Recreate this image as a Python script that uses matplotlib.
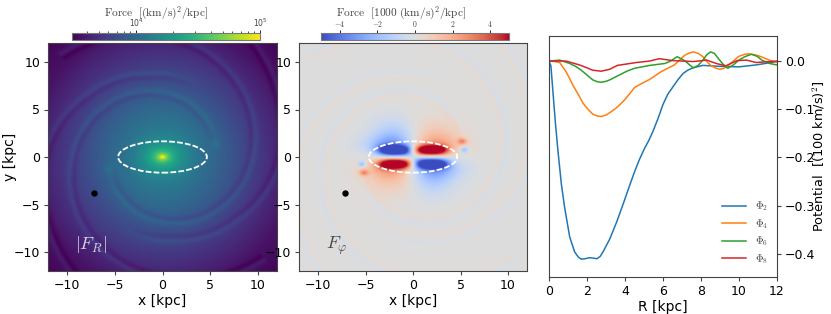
import numpy as np
import matplotlib
matplotlib.use('Agg')
import matplotlib.pyplot as plt
from matplotlib.colors import LogNorm, Normalize
from matplotlib.patches import Ellipse

plt.rcParams['mathtext.fontset'] = 'cm'

# Curves
R2 = [0, .1, .2, .33, .47, .65, .82, 1.09, 1.35, 1.55, 1.7, 1.9, 2.14, 2.35, 2.53, 2.7, 2.84, 3.2, 3.55, 3.9, 4.2, 4.5, 4.75, 5.03, 5.25, 5.47, 5.75, 6.0, 6.25, 6.53, 6.8, 7.05, 7.3, 7.58, 8.1, 9, 10, 10.9, 12]
PHI2 = [0, -.01, -.06, -.125, -.186, -.255, -.303, -.365, -.396, -.407, -.411, -.41, -.408, -.409, -.41, -.405, -.396, -.369, -.335, -.297, -.263, -.23, -.205, -.181, -.165, -.146, -.118, -.09, -.069, -.053, -.038, -.026, -.019, -.014, -.009, -.011, -.012, -.008, -.001]
R4 = [0, .3, .56, .9, 1.26, 1.55, 1.8, 2.05, 2.3, 2.55, 2.75, 3.0, 3.2, 3.55, 3.9, 4.2, 4.5, 4.9, 5.3, 5.9, 6.3, 6.6, 6.9, 7.14, 7.4, 7.6, 7.85, 8.1, 8.35, 8.54, 8.8, 9, 9.2, 9.4, 9.7, 10, 10.3, 10.55, 10.85, 11.1, 11.6, 12]
PHI4 = [0, -.001, -.003, -.022, -.05, -.07, -.088, -.1, -.11, -.114, -.115, -.112, -.107, -.097, -.084, -.07, -.055, -.046, -.038, -.022, -.014, -.008, .003, .012, .017, .019, .016, .009, -.003, -.01, -.015, -.017, -.015, -.01, 0, .01, .014, .015, .013, .01, .002, -.003]
R6 = [0, .56, 1.09, 1.4, 1.7, 2.0, 2.3, 2.55, 2.75, 3.0, 3.2, 3.7, 4.1, 4.5, 5.3, 6.1, 6.4, 6.74, 7.0, 7.2, 7.4, 7.6, 7.85, 8.1, 8.3, 8.5, 8.7, 8.9, 9.15, 9.4, 9.7, 10, 10.3, 10.65, 10.95, 11.2, 11.6, 12]
PHI6 = [0, .002, -.005, -.011, -.019, -.029, -.039, -.043, -.044, -.042, -.039, -.029, -.021, -.015, -.009, -.005, 0, .009, .004, -.001, -.008, -.014, -.009, .002, .013, .019, .016, .006, -.006, -.015, -.008, .002, .009, .014, .01, .002, -.005, -.008]
R8 = [0, .9, 1.6, 2.0, 2.3, 2.75, 3.2, 3.6, 4.6, 5.3, 5.8, 6.5, 7.6, 8.3, 8.8, 9.3, 9.9, 10.4, 10.9, 12]
PHI8 = [0, 0, -.008, -.014, -.019, -.021, -.017, -.009, -.003, 0, .005, .001, -.001, .002, -.005, -.01, .001, .002, -.003, 0]
CURVE_LABELS = [r'$\Phi_2$', r'$\Phi_4$', r'$\Phi_6$', r'$\Phi_8$']

# Left image: log10 force against radius
PROFILE_R = [0, .15, .4, .8, 1.3, 2, 3, 4, 6, 8, 10, 12, 14, 17]
PROFILE_LOG = [5.0, 4.95, 4.72, 4.52, 4.38, 4.25, 4.13, 4.05, 3.95, 3.84, 3.74, 3.65, 3.56, 3.5]

# Spiral ridges: polar angle (deg) against radius (kpc)
ARM_A_ANGLE = [10, 45, 90, 135, 180, 225, 270, 315]
ARM_A_R = [5.6, 5.9, 6.6, 7.8, 9.3, 11.0, 12.7, 15.0]
ARM_B_ANGLE = [60, 100, 140, 173, 210, 250]
ARM_B_R = [8.3, 8.7, 10.1, 11.9, 13.8, 16.5]
ARM_LOG_AMP = [.095, .09]
ARM_PHI_AMP = [.36, .32]

# Azimuthal force lobes: x, y, sigma-x, sigma-y, amplitude, sharpness
LOBE_X = [1.6, 1.6, 2.0, 2.4, -2.1, -2.0, 5.2, 5.4]
LOBE_Y = [.72, -.7, 1.3, 2.5, 2.4, 1.3, 1.65, .77]
LOBE_SX = [1.6, 1.65, 2.1, 1.9, 1.6, 2.1, .36, .3]
LOBE_SY = [.38, .4, .75, 1.2, 1.2, .75, .24, .24]
LOBE_AMP = [7.0, -6.6, 1.9, 1.0, -1.4, -2.2, 2.2, -2.2]
LOBE_POWER = [3, 3, 2, 2, 2, 2, 2, 2]

# Bright knots at the bar tips in the left image: x, y, sigma, log10 excess
KNOT_X, KNOT_Y, KNOT_SIGMA, KNOT_LOG = 5.6, 1.3, .4, .07

ELLIPSE_WIDTH, ELLIPSE_HEIGHT = 9.3, 3.3
DOT_X, DOT_Y = -7.2, -3.8

FORCE_MIN, FORCE_MAX = 3050, 1e5
PHI_LIMIT = 5
GRID = np.linspace(-12, 12, 400)
X, Y = np.meshgrid(GRID, GRID)


def arm_fields():
    r = np.hypot(X, Y)
    theta = np.degrees(np.arctan2(Y, X))
    log_part = np.zeros_like(X)
    phi_part = np.zeros_like(X)
    arms = [(ARM_A_ANGLE, ARM_A_R, ARM_LOG_AMP[0], ARM_PHI_AMP[0]),
            (ARM_B_ANGLE, ARM_B_R, ARM_LOG_AMP[1], ARM_PHI_AMP[1])]
    for angles, radii, log_amp, phi_amp in arms:
        for rot in (0, 180):
            for turn in (0, 360):
                th = (theta - rot) % 360 + turn
                fade = np.clip((th - angles[0]) / 30, 0, 1) * (th <= angles[-1])
                ridge = np.interp(th, angles, radii)
                d = (r - ridge) / .27
                shape = d * np.exp(-.5 * d ** 2) * fade
                log_part += log_amp * shape
                phi_part -= phi_amp * shape
    return log_part, phi_part


def phi_field(extra):
    out = extra.copy()
    for x0, y0, sx, sy, a, p in zip(LOBE_X, LOBE_Y, LOBE_SX, LOBE_SY, LOBE_AMP, LOBE_POWER):
        for sgn in (1, -1):
            out += a * np.exp(-.5 * np.abs((sgn * X - x0) / sx) ** p - .5 * ((sgn * Y - y0) / sy) ** 2)
    return out


log_arm, phi_arm = arm_fields()
rad = np.hypot(X, Y)
re_mix = np.where(rad < 4, np.hypot(X, Y * (1 + .5 * (1 - rad / 4))), rad)
knots = sum(KNOT_LOG * np.exp(-.5 * (np.hypot(s * X - KNOT_X, s * Y - KNOT_Y) / KNOT_SIGMA) ** 2) for s in (1, -1))
force = 10 ** (np.interp(re_mix, PROFILE_R, PROFILE_LOG) + log_arm + knots)
phi = phi_field(phi_arm)

fig = plt.figure(figsize=(8.31, 3.14), dpi=100)
W, H = 831, 314


def ax_px(x0, y0, x1, y1):
    return fig.add_axes([x0 / W, 1 - y1 / H, (x1 - x0) / W, (y1 - y0) / H])


TEXT = '#444444'
SPINE = '#444444'
panels = [
    (ax_px(48, 43, 277, 271), force, 'viridis', LogNorm(FORCE_MIN, FORCE_MAX), r'$|F_R|$', 'white'),
    (ax_px(299, 43, 527, 271), phi, 'coolwarm', Normalize(-PHI_LIMIT, PHI_LIMIT), r'$F_\varphi$', '#222222'),
]
images = []
for ax, field, cmap, norm, label, label_color in panels:
    im = ax.imshow(field, origin='lower', extent=[-12, 12, -12, 12], cmap=cmap, norm=norm,
                   interpolation='bilinear', aspect='auto')
    images.append(im)
    ax.add_patch(Ellipse((0, 0), ELLIPSE_WIDTH, ELLIPSE_HEIGHT, fill=False, ec='white', lw=1.3, ls=(0, (3.2, 1.2))))
    ax.plot([DOT_X], [DOT_Y], 'o', color='black', ms=3.6)
    ax.text(-9.2, -9.7, label, color=label_color, fontsize=13, alpha=.8)
    ax.set_xlim(-12, 12)
    ax.set_ylim(-12, 12)
    ax.set_xticks([-10, -5, 0, 5, 10])
    ax.set_yticks([-10, -5, 0, 5, 10])
    ax.set_xlabel('x [kpc]', fontsize=10, labelpad=1.5)
    ax.tick_params(labelsize=9, length=3, width=.8, color=SPINE, pad=2.5)
    for s in ax.spines.values():
        s.set_color(SPINE)
panels[0][0].set_ylabel('y [kpc]', fontsize=10)
panels[0][0].yaxis.set_label_coords(-31 / 229, .5)

cax1 = ax_px(72, 33, 260, 39.5)
cb1 = fig.colorbar(images[0], cax=cax1, orientation='horizontal', ticklocation='top')
cb1.set_label(r'$\mathrm{Force}\ \ [(\mathrm{km/s})^2/\mathrm{kpc}]$', fontsize=8.2, color=TEXT)
cb1.ax.xaxis.set_label_coords(.447, 3.55)
cb1.ax.tick_params(labelsize=5.5, length=2.5, width=.6, pad=.2, labelcolor=TEXT, which='major')
cb1.ax.tick_params(length=1.5, width=.5, which='minor')
cb1.outline.set_edgecolor('#777777')

cax2 = ax_px(321, 33, 509, 39.5)
cb2 = fig.colorbar(images[1], cax=cax2, orientation='horizontal', ticklocation='top', ticks=[-4, -2, 0, 2, 4])
cb2.set_label(r'$\mathrm{Force}\ \ [1000\ (\mathrm{km/s})^2/\mathrm{kpc}]$', fontsize=8.2, color=TEXT)
cb2.ax.xaxis.set_label_coords(.425, 3.55)
cb2.ax.tick_params(labelsize=5.5, length=2.5, width=.6, pad=.2, labelcolor=TEXT)
cb2.ax.set_xticklabels([r'$-4$', r'$-2$', r'$0$', r'$2$', r'$4$'])
cb2.outline.set_edgecolor('#777777')

ax3 = ax_px(549, 36, 777, 277)
for rr, pp, lab, col in zip([R2, R4, R6, R8], [PHI2, PHI4, PHI6, PHI8], CURVE_LABELS,
                            ['C0', 'C1', 'C2', 'C3']):
    ax3.plot(rr, pp, color=col, lw=1.1, label=lab)
ax3.set_xlim(0, 12)
ax3.set_ylim(-.448, .052)
ax3.set_xticks(range(0, 13, 2))
ax3.set_yticks([-.4, -.3, -.2, -.1, 0])
ax3.yaxis.tick_right()
ax3.yaxis.set_label_position('right')
ax3.set_xlabel('R [kpc]', fontsize=10, labelpad=1.5)
ax3.set_ylabel(r'Potential  [(100 km/s)$^2$]', fontsize=9.3)
ax3.yaxis.set_label_coords(1 + 34 / 228, .5)
ax3.tick_params(labelsize=9, length=3, width=.8, color=SPINE, pad=2.5)
for s in ax3.spines.values():
    s.set_color(SPINE)
leg = ax3.legend(loc='lower right', frameon=False, fontsize=7.5, labelspacing=.36,
                 handlelength=2.35, handletextpad=.85, borderaxespad=0, bbox_to_anchor=(.98, .03),
                 labelcolor=TEXT)

fig.savefig('out.png', dpi=100)
